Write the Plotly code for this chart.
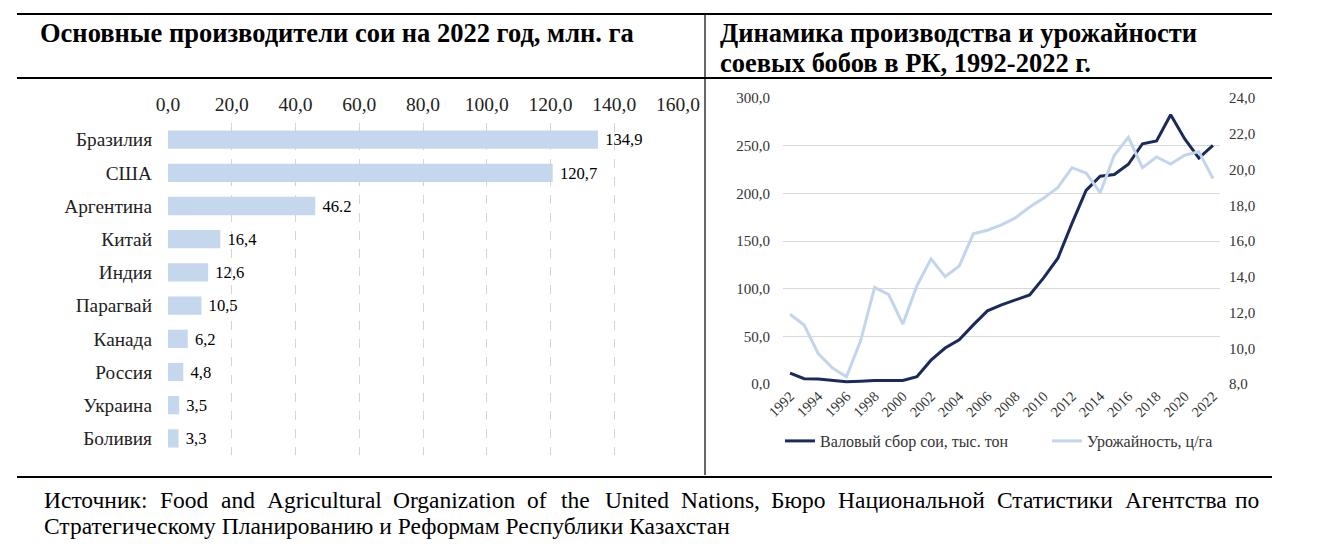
import plotly.graph_objects as go

# Left chart: main soybean producers, 2022, mln ha
countries = ["Бразилия", "США", "Аргентина", "Китай", "Индия",
             "Парагвай", "Канада", "Россия", "Украина", "Боливия"]
area = [134.9, 120.7, 46.2, 16.4, 12.6, 10.5, 6.2, 4.8, 3.5, 3.3]
area_labels = ["134,9", "120,7", "46.2", "16,4", "12,6",
               "10,5", "6,2", "4,8", "3,5", "3,3"]

# Right chart: Kazakhstan soybean production and yield
years = list(range(1992, 2023))
production = [11.5, 5.6, 5.2, 3.5, 2.4, 3.0, 3.8, 3.8, 3.8, 7.7,
              25.0, 37.7, 46.4, 62.0, 76.7, 83.0, 88.0, 93.5, 111.6, 132.0,
              168.5, 203.0, 218.0, 219.7, 230.5, 252.0, 255.0, 282.5, 257.0, 237.0,
              250.4]
yield_cha = [11.9, 11.3, 9.7, 8.9, 8.4, 10.4, 13.4, 13.0, 11.35, 13.5,
             15.0, 14.0, 14.6, 16.4, 16.6, 16.9, 17.3, 17.9, 18.4, 19.0,
             20.1, 19.8, 18.7, 20.8, 21.8, 20.1, 20.7, 20.3, 20.8, 21.0,
             19.5]
year_ticks = list(range(1992, 2023, 2))

W, H = 1320, 550
OFF = 8  # page body margin
SERIF = "Liberation Serif, Times New Roman, serif"
BAR_COLOR = "#c5d7ec"
DARK = "#1b2a5c"
LIGHT = "#c3d5ea"


def px_x(x):
    return (x - OFF) / W


def px_y(y):
    return 1 - (y - OFF) / H


fig = go.Figure()

fig.add_trace(go.Bar(
    x=area, y=countries, orientation="h",
    marker=dict(color=BAR_COLOR, line=dict(width=0)),
    width=0.55,
    text=area_labels, texttemplate="\u00a0%{text}",
    textposition="outside", cliponaxis=False,
    textfont=dict(family=SERIF, size=20, color="#000000"),
    xaxis="x", yaxis="y", showlegend=False,
))

fig.add_trace(go.Scatter(
    x=years, y=production, mode="lines",
    line=dict(color=DARK, width=3),
    name="Валовый сбор сои, тыс. тон",
    xaxis="x2", yaxis="y2",
))
fig.add_trace(go.Scatter(
    x=years, y=yield_cha, mode="lines",
    line=dict(color=LIGHT, width=3),
    name="Урожайность, ц/га",
    xaxis="x2", yaxis="y3",
))

fig.update_layout(
    width=W, height=H,
    margin=dict(l=0, r=0, t=0, b=0, autoexpand=False),
    paper_bgcolor="white", plot_bgcolor="white",
    separators=", ",
    font=dict(family=SERIF, color="#000000"),
    xaxis=dict(
        domain=[px_x(168), px_x(678)], anchor="y", side="top",
        range=[0, 160], dtick=20, tickformat=".1f",
        showgrid=True, gridcolor="#d4d4d4", griddash="dash", gridwidth=1,
        zeroline=False, showline=False, ticks="",
        ticklabelstandoff=7, automargin=False,
        tickfont=dict(family=SERIF, size=19.5, color="#222222"),
    ),
    yaxis=dict(
        domain=[px_y(455), px_y(123)], anchor="x",
        autorange="reversed", showgrid=False, zeroline=False, showline=False,
        ticks="", ticklabelstandoff=15, automargin=False,
        tickfont=dict(family=SERIF, size=19.3, color="#222222"),
    ),
    xaxis2=dict(
        domain=[px_x(783), px_x(1220)], anchor="y2",
        range=[1991.5, 2022.5], tickvals=year_ticks, tickangle=-45,
        showgrid=False, zeroline=False, showline=False, ticks="", automargin=False,
        tickfont=dict(family=SERIF, size=14.5, color="#333333"),
    ),
    yaxis2=dict(
        domain=[px_y(384), px_y(98)], anchor="x2",
        range=[0, 300], dtick=50, tickformat=".1f",
        showgrid=True, gridcolor="#d9d9d9", gridwidth=1,
        zeroline=False, showline=False, ticks="", ticklabelstandoff=12, automargin=False,
        tickfont=dict(family=SERIF, size=15, color="#333333"),
    ),
    yaxis3=dict(
        domain=[px_y(384), px_y(98)], anchor="x2", overlaying="y2", side="right",
        range=[8, 24], dtick=2, tickformat=".1f",
        showgrid=False, zeroline=False, showline=False, ticks="", ticklabelstandoff=8,
        automargin=False,
        tickfont=dict(family=SERIF, size=15, color="#333333"),
    ),
    legend=dict(
        orientation="h", x=px_x(780), y=px_y(424), xanchor="left", yanchor="top",
        font=dict(family=SERIF, size=16, color="#333333"),
        bgcolor="rgba(0,0,0,0)", entrywidth=222, itemwidth=30,
    ),
)

# table-like frame around the two charts
frame = dict(type="line", xref="paper", yref="paper", line=dict(color="#000000", width=2))
fig.add_shape(**frame, x0=px_x(17), x1=px_x(1272), y0=px_y(14), y1=px_y(14))
fig.add_shape(**frame, x0=px_x(17), x1=px_x(1272), y0=px_y(78), y1=px_y(78))
fig.add_shape(**frame, x0=px_x(17), x1=px_x(1272), y0=px_y(477), y1=px_y(477))
fig.add_shape(type="line", xref="paper", yref="paper", line=dict(color="#000000", width=1.2),
              x0=px_x(705), x1=px_x(705), y0=px_y(14), y1=px_y(475))

# titles
titles = [
    ("Основные производители сои на 2022 год, млн. га", 38, 33),
    ("Динамика производства и урожайности", 718, 33),
    ("соевых бобов в РК, 1992-2022 г.", 718, 63),
]
for txt, tx, ty in titles:
    fig.add_annotation(
        text="<b>" + txt + "</b>",
        xref="paper", yref="paper", x=px_x(tx), y=px_y(ty),
        xanchor="left", yanchor="middle", showarrow=False, align="left",
        font=dict(family=SERIF, size=26.5, color="#000000"),
    )

# source note, first line justified word by word
src_words = ["Источник:", "Food", "and", "Agricultural", "Organization", "of", "the",
             "United", "Nations,", "Бюро", "Национальной", "Статистики", "Агентства", "по"]
src_word_x = [42, 158, 219, 265, 391, 525, 559, 603, 679, 769, 836, 995, 1123, 1233]
for word, wx in zip(src_words, src_word_x):
    fig.add_annotation(
        text=word, xref="paper", yref="paper", x=px_x(wx), y=px_y(500),
        xanchor="left", yanchor="middle", showarrow=False,
        font=dict(family=SERIF, size=23.5, color="#000000"),
    )
fig.add_annotation(
    text="Стратегическому Планированию и Реформам Республики Казахстан",
    xref="paper", yref="paper", x=px_x(42), y=px_y(526),
    xanchor="left", yanchor="middle", showarrow=False,
    font=dict(family=SERIF, size=23.5, color="#000000"),
)

fig.write_html("out.html")
